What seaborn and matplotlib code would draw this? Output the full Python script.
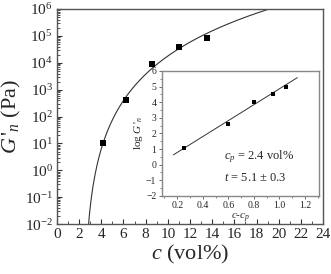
import numpy as np
import pandas as pd
import matplotlib
matplotlib.use("Agg")
import matplotlib.pyplot as plt
import matplotlib.ticker as mticker
import seaborn as sns

# measured storage modulus vs. filler content
conc = [4.12, 6.23, 8.6, 11.04, 13.54]
modulus = [10, 430, 9300, 40000, 85000]

# inset: log G'n vs log(c - cp)
log_dc = [0.25, 0.60, 0.80, 0.95, 1.05]
log_g = [1.05, 2.6, 4.0, 4.55, 4.95]

# percolation fit parameters
cp = 2.4
t_exp = 5.1
log_pref = -0.24

sns.set_theme(style="ticks")
plt.rcParams["font.family"] = ["Liberation Serif", "DejaVu Serif"]
plt.rcParams["mathtext.fontset"] = "custom"
plt.rcParams["mathtext.rm"] = "Liberation Serif"
plt.rcParams["mathtext.it"] = "Liberation Serif:italic"
plt.rcParams["mathtext.bf"] = "Liberation Serif:bold"

fig = plt.figure(figsize=(3.31, 2.74), dpi=100)
ax = fig.add_axes([0.172, 0.182, 0.804, 0.785])

# fit curve G = A (c - cp)^t
c_fit = np.linspace(cp + 0.3, 20, 300)
g_fit = 10 ** log_pref * (c_fit - cp) ** t_exp
sns.lineplot(x=c_fit, y=g_fit, ax=ax, color="#333333", lw=0.8)
sns.scatterplot(x=conc, y=modulus, ax=ax, marker="s", color="black",
                s=22, edgecolor="black", linewidth=0, zorder=3)

ax.set_yscale("log")
ax.set_xlim(0, 24)
ax.set_ylim(1e-2, 1e6)
ax.xaxis.set_major_locator(mticker.MultipleLocator(2))
ax.xaxis.set_minor_locator(mticker.MultipleLocator(1))
ax.yaxis.set_major_locator(mticker.LogLocator(base=10, numticks=20))
ax.yaxis.set_minor_locator(mticker.LogLocator(base=10, subs=np.arange(2, 10), numticks=20))
ax.yaxis.set_minor_formatter(mticker.NullFormatter())
ax.tick_params(which="both", direction="in", labelsize=11, color="#333333")
ax.tick_params(which="major", length=3.5, width=0.8)
ax.tick_params(which="minor", length=2, width=0.6)
ax.tick_params(axis="both", pad=3)
for sp in ax.spines.values():
    sp.set_color("#555555")
    sp.set_linewidth(1.0)
ax.set_xlabel(r"$c$ (vol%)", fontsize=16, labelpad=1)
ax.set_ylabel(r"$G\,'_n$ (Pa)", fontsize=16, labelpad=1)

# inset
ins = fig.add_axes([0.489, 0.285, 0.475, 0.456])
x_line = np.array([0.17, 1.14])
sns.lineplot(x=x_line, y=log_pref + t_exp * x_line, ax=ins, color="#333333", lw=0.7)
sns.scatterplot(x=log_dc, y=log_g, ax=ins, marker="s", color="black",
                s=12, linewidth=0, zorder=3)
ins.set_xlim(0.08, 1.31)
ins.set_ylim(-2, 6)
ins.xaxis.set_major_locator(mticker.MultipleLocator(0.2))
ins.xaxis.set_minor_locator(mticker.MultipleLocator(0.1))
ins.yaxis.set_major_locator(mticker.MultipleLocator(1))
ins.yaxis.set_minor_locator(mticker.MultipleLocator(0.5))
ins.xaxis.set_major_formatter(mticker.FormatStrFormatter("%.1f"))
ins.tick_params(which="both", direction="out", labelsize=7, pad=1.5, color="#555555")
ins.tick_params(which="major", length=2.5, width=0.6)
ins.tick_params(which="minor", length=1.5, width=0.5)
for sp in ins.spines.values():
    sp.set_color("#888888")
    sp.set_linewidth(1.0)
ins.set_xlabel(r"$c$-$c_p$", fontsize=8, labelpad=1)
ins.set_ylabel(r"log $G\,'_n$", fontsize=8, labelpad=1)
ins.text(0.57, 0.49, r"$c_p$ = 2.4 vol%", fontsize=9, ha="left", va="center")
ins.text(0.57, -0.86, r"$t$ = 5.1 $\pm$ 0.3", fontsize=9, ha="left", va="center")

fig.savefig("out.png", dpi=100)
